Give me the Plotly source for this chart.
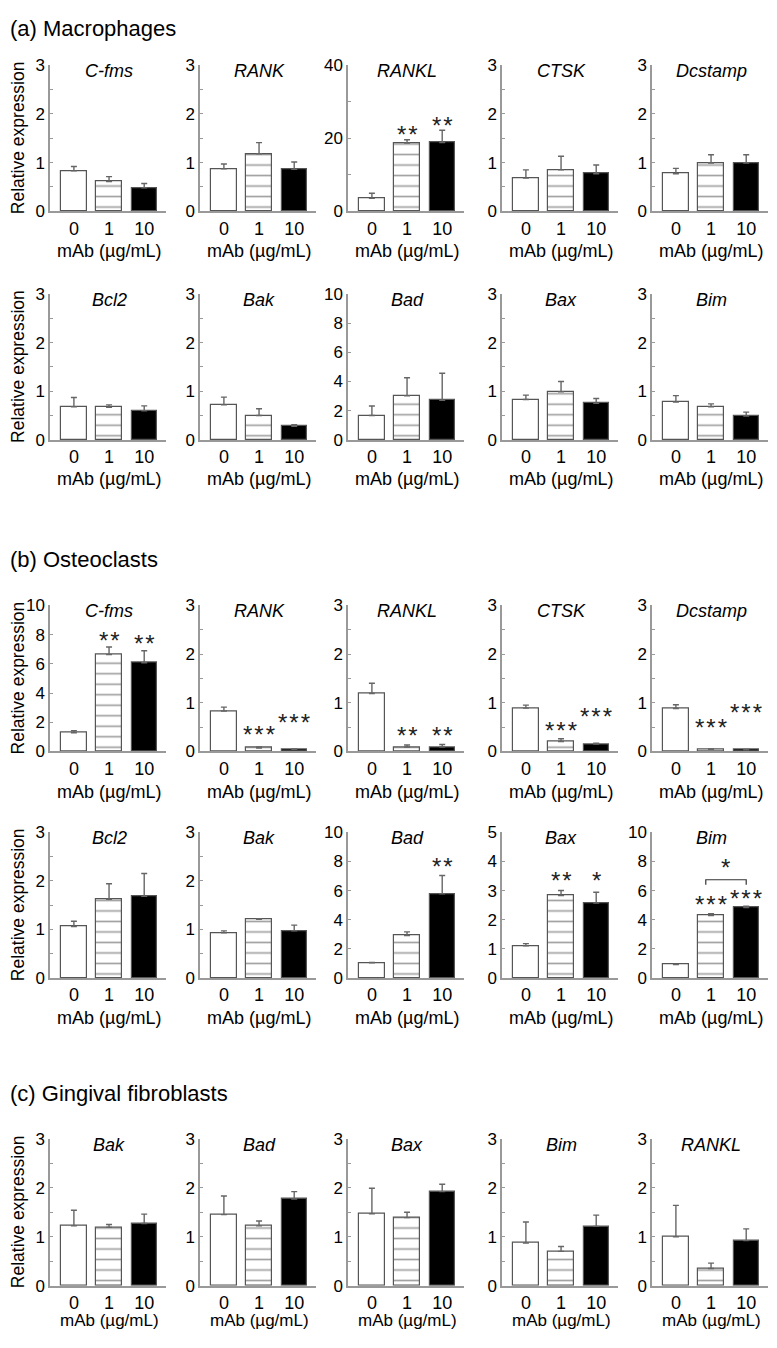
import plotly.graph_objects as go

categories = ["0", "1", "10"]

# (a) Macrophages
mac_genes = ["C-fms", "RANK", "RANKL", "CTSK", "Dcstamp", "Bcl2", "Bak", "Bad", "Bax", "Bim"]
mac_means = [[0.83, 0.61, 0.48], [0.87, 1.18, 0.86], [3.5, 18.7, 18.8], [0.68, 0.85, 0.77], [0.77, 0.99, 0.99],
             [0.68, 0.67, 0.60], [0.72, 0.50, 0.28], [1.67, 3.02, 2.72], [0.83, 0.99, 0.75], [0.78, 0.68, 0.49]]
mac_sem = [[0.09, 0.10, 0.09], [0.10, 0.23, 0.15], [1.4, 0.9, 3.4], [0.17, 0.28, 0.18], [0.11, 0.17, 0.17],
           [0.19, 0.05, 0.10], [0.16, 0.14, 0.03], [0.65, 1.24, 1.85], [0.09, 0.21, 0.10], [0.13, 0.06, 0.08]]
mac_ymax = [3, 3, 40, 3, 3, 3, 3, 10, 3, 3]
mac_stars = [(2, 1, 21.2, "**"), (2, 2, 23.9, "**")]

# (b) Osteoclasts
ost_genes = ["C-fms", "RANK", "RANKL", "CTSK", "Dcstamp", "Bcl2", "Bak", "Bad", "Bax", "Bim"]
ost_means = [[1.28, 6.63, 6.07], [0.83, 0.07, 0.04], [1.19, 0.09, 0.09], [0.89, 0.20, 0.15], [0.88, 0.04, 0.03],
             [1.06, 1.62, 1.68], [0.93, 1.21, 0.97], [1.05, 2.92, 5.77], [1.11, 2.83, 2.57], [0.92, 4.29, 4.83]]
ost_sem = [[0.14, 0.52, 0.83], [0.08, 0.02, 0.01], [0.21, 0.04, 0.05], [0.06, 0.06, 0.02], [0.08, 0.01, 0.01],
           [0.11, 0.32, 0.47], [0.04, 0.01, 0.12], [0.02, 0.25, 1.26], [0.07, 0.17, 0.37], [0.04, 0.13, 0.09]]
ost_ymax = [10, 3, 3, 3, 3, 3, 3, 10, 5, 10]
ost_stars = [(0, 1, 7.69, "**"), (0, 2, 7.46, "**"), (1, 1, 0.37, "***"), (1, 2, 0.62, "***"),
             (2, 1, 0.35, "**"), (2, 2, 0.34, "**"), (3, 1, 0.45, "***"), (3, 2, 0.74, "***"),
             (4, 1, 0.52, "***"), (4, 2, 0.81, "***"), (7, 2, 7.71, "**"), (8, 1, 3.37, "**"),
             (8, 2, 3.37, "*"), (9, 1, 5.1, "***"), (9, 2, 5.5, "***"), (9, 1.42, 7.64, "*")]
ost_bracket = (9, 0.85, 2.0, 6.4, 6.74)

# (c) Gingival fibroblasts
gf_genes = ["Bak", "Bad", "Bax", "Bim", "RANKL"]
gf_means = [[1.22, 1.19, 1.27], [1.45, 1.22, 1.77], [1.47, 1.39, 1.92], [0.87, 0.70, 1.21], [1.0, 0.35, 0.92]]
gf_sem = [[0.32, 0.06, 0.19], [0.38, 0.10, 0.15], [0.52, 0.11, 0.15], [0.43, 0.10, 0.23], [0.64, 0.11, 0.24]]
gf_ymax = [3, 3, 3, 3, 3]

section_titles = ["(a) Macrophages", "(b) Osteoclasts", "(c) Gingival fibroblasts"]
x_title = "mAb (µg/mL)"
y_title = "Relative expression"

# the page body has a default 8px margin on every side; fit the figure inside the window
OFF = 8
W, H = 777 - 2 * OFF, 1348 - 2 * OFF
FONT = "Liberation Sans, Arial, sans-serif"
col_left = [50, 200, 348, 502, 652]
col_w = 116
rows_px = [(57, 205), (289, 437), (605, 753), (835, 983), (1146, 1295)]
xtitle_px = [245, 477, 794, 1023, 1330]
xtitle_size = [18, 18, 18, 18, 17]
section_y = [20, 558, 1100]


def px_x(p):
    return (p - OFF) / W


def px_y(p):
    return 1 - (p - OFF) / H


genes = mac_genes + ost_genes + gf_genes
means = mac_means + ost_means + gf_means
sems = mac_sem + ost_sem + gf_sem
ymaxs = mac_ymax + ost_ymax + gf_ymax
stars = [(i, x, y, t) for (i, x, y, t) in mac_stars] + [(i + 10, x, y, t) for (i, x, y, t) in ost_stars]

fig = go.Figure()
layout = dict(width=W, height=H, margin=dict(l=0, r=0, t=0, b=0), paper_bgcolor="white",
              plot_bgcolor="white", showlegend=False, font=dict(family=FONT, color="black"),
              bargap=0)
annotations = []
shapes = []


def tick_cfg(ymax):
    if ymax == 40:
        return 20, 10
    if ymax == 10:
        return 2, None
    if ymax == 5:
        return 1, None
    return 1, 0.5


for k in range(25):
    r, c = divmod(k, 5)
    n = k + 1
    xs = "" if n == 1 else str(n)
    x0 = col_left[c]
    top, bot = rows_px[r]
    fig.add_trace(go.Bar(
        x=[0, 1, 2], y=means[k], width=0.72, xaxis="x" + xs, yaxis="y" + xs,
        marker=dict(color=["white", "white", "black"], line=dict(color="#555555", width=1.2),
                    pattern=dict(shape=["", "-", ""], size=10.5, solidity=0.16, fgcolor="#111111")),
        error_y=dict(type="data", symmetric=False, array=sems[k], arrayminus=[0, 0, 0],
                     color="#666666", thickness=1.4, width=3),
        hoverinfo="skip"))
    dt, mdt = tick_cfg(ymaxs[k])
    xa = dict(domain=[px_x(x0), px_x(x0 + col_w)], anchor="y" + xs, range=[-0.68, 2.62],
              tickvals=[0, 1, 2], ticktext=categories, ticks="", showline=True,
              linecolor="#999999", linewidth=1.5, showgrid=False, zeroline=False,
              tickfont=dict(size=18, family=FONT, color="black"), fixedrange=True)
    ya = dict(domain=[px_y(bot), px_y(top)], anchor="x" + xs, range=[0, ymaxs[k]],
              dtick=dt, tick0=0, ticks="inside", ticklen=3, tickcolor="#999999", showline=True,
              linecolor="#999999", linewidth=1.5, showgrid=False, zeroline=False,
              tickfont=dict(size=17, family=FONT, color="black"), fixedrange=True)
    if mdt:
        ya["minor"] = dict(dtick=mdt, ticks="inside", ticklen=3, tickcolor="#999999", showgrid=False)
    layout["xaxis" + xs] = xa
    layout["yaxis" + xs] = ya
    annotations.append(dict(text="<i>" + genes[k] + "</i>", xref="x" + xs, x=1,
                            yref="y" + xs + " domain", y=1 - 6 / (bot - top), yanchor="middle",
                            showarrow=False, font=dict(size=18, family=FONT, color="black")))
    annotations.append(dict(text=x_title, xref="x" + xs, x=1, yref="paper", y=px_y(xtitle_px[r]),
                            yanchor="middle", showarrow=False,
                            font=dict(size=xtitle_size[r], family=FONT, color="black")))
    if c == 0:
        annotations.append(dict(text=y_title, textangle=-90, xref="paper", x=px_x(18), xanchor="center",
                                yref="paper", y=px_y((top + bot) / 2), yanchor="middle", showarrow=False,
                                font=dict(size=17.5, family=FONT, color="black")))

for (k, x, y, t) in stars:
    n = k + 1
    xs = "" if n == 1 else str(n)
    annotations.append(dict(text="\u200a".join(t), xref="x" + xs, x=x, yref="y" + xs, y=y, yanchor="middle",
                            yshift=-1, showarrow=False, font=dict(size=24, family=FONT, color="#222222")))

bk, bx0, bx1, by0, by1 = ost_bracket
bn = str(bk + 10 + 1)
shapes.append(dict(type="path", xref="x" + bn, yref="y" + bn,
                   path=f"M {bx0},{by0} L {bx0},{by1} L {bx1},{by1} L {bx1},{by0}",
                   line=dict(color="#333333", width=1.2)))

for t, yc in zip(section_titles, section_y):
    annotations.append(dict(text=t, xref="paper", x=0, xanchor="left", yref="paper", y=px_y(yc),
                            yanchor="middle", showarrow=False, font=dict(size=22, family=FONT, color="black")))

layout["annotations"] = annotations
layout["shapes"] = shapes
fig.update_layout(**layout)
fig.write_html("out.html")
